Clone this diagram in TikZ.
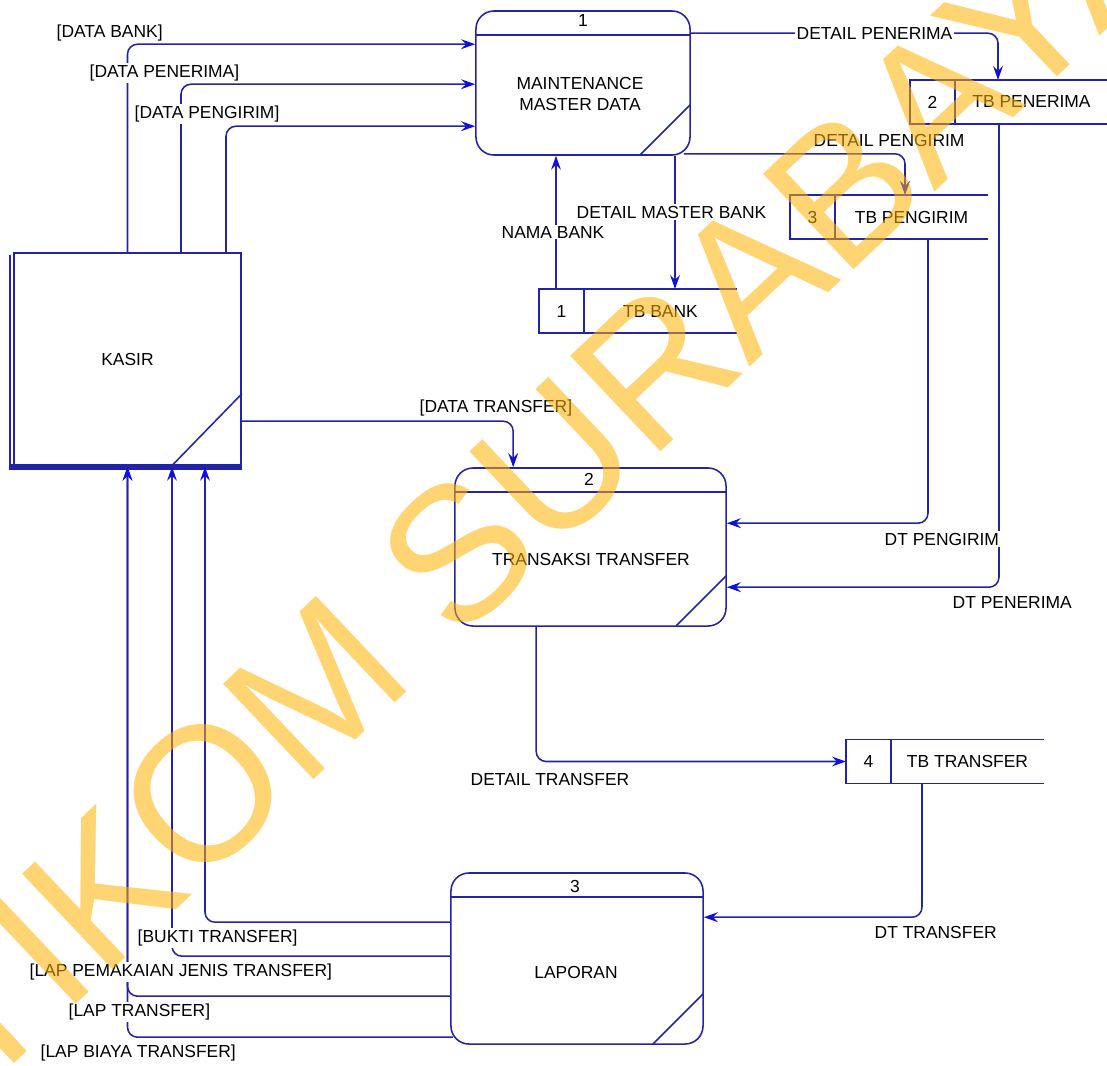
\documentclass[tikz,border=0pt]{standalone}
\usepackage{fontspec}
\setmainfont{Liberation Sans}
\newfontfamily\wmfont{Liberation Sans}
\usetikzlibrary{positioning,arrows.meta,calc}
\definecolor{dfdline}{RGB}{35,35,165}
\definecolor{dfdarrow}{RGB}{15,15,225}
\definecolor{wmyellow}{RGB}{255,176,0}

\begin{document}
\begin{tikzpicture}[x=0.025cm,y=-0.025cm,
  font=\fontsize{12.4}{15.6}\selectfont,
  dfd/.style={draw=dfdline,line width=1.1pt},
  flow/.style={dfd,rounded corners=0.25cm,-{Stealth[length=10pt,width=7pt,inset=3.5pt,color=dfdarrow]}},
  proc/.style={dfd,rounded corners=0.45cm,inner sep=0pt,path picture={
      \draw[dfd] ([yshift=-0.6cm]path picture bounding box.north west) -- ([yshift=-0.6cm]path picture bounding box.north east);
      \draw[dfd] ([xshift=-1.25cm]path picture bounding box.south east) -- ([yshift=1.25cm]path picture bounding box.south east);}},
  storeid/.style={dfd,minimum width=1.125cm,minimum height=1.1cm,inner sep=0pt,outer sep=0pt},
  storename/.style={minimum width=3.825cm,minimum height=1.1cm,inner sep=0pt,outer sep=0pt},
  lbl/.style={anchor=west,fill=white,inner sep=1pt},
  wm/.style={anchor=base west,rotate=43.4,inner sep=0pt,text=wmyellow,text opacity=0.55,font=\wmfont\fontsize{135.9}{136}\selectfont}]
\useasboundingbox (0,0) rectangle (1107,1066);
\clip (0,0) rectangle (1107,1066);

% processes
\node[proc,minimum width=5.35cm,minimum height=3.6cm] (p1) at (583,83) {};
\node (p1num) at (583,21) {1};
\node[align=center] (p1txt) at (580,94) {MAINTENANCE\\MASTER DATA};
\node[proc,minimum width=6.775cm,minimum height=3.95cm] (p2) at (590.5,547) {};
\node (p2num) at (589,479) {2};
\node (p2txt) at (591,559) {TRANSAKSI TRANSFER};
\node[proc,minimum width=6.3cm,minimum height=4.275cm] (p3) at (577,958.5) {};
\node (p3num) at (575,886) {3};
\node (p3txt) at (576,972) {LAPORAN};

% external entity
\node[dfd,minimum width=5.675cm,minimum height=5.325cm,inner sep=0pt] (kasir) at (127.5,359.5) {KASIR};
\draw[dfd] ($(kasir.north west)+(-3,3)$) -- ($(kasir.south west)+(-3,3)$);
\fill[dfdline] ($(kasir.south west)+(-3,-3)$) rectangle ($(kasir.south east)+(0,3)$);
\draw[dfd] ($(kasir.south east)+(-71,0)$) -- ($(kasir.south east)+(0,-73)$);

% data stores
\node[storeid] (idbank) at (561.5,311) {1};
\node[storename,right=0pt of idbank] (bank) {TB BANK};
\node[storeid] (idpenerima) at (932.5,102) {2};
\node[storename,right=0pt of idpenerima] (penerima) {TB PENERIMA};
\node[storeid] (idpengirim) at (812.5,217) {3};
\node[storename,right=0pt of idpengirim] (pengirim) {TB PENGIRIM};
\node[storeid] (idtransfer) at (868.5,761.5) {4};
\node[storename,right=0pt of idtransfer] (transfer) {TB TRANSFER};
\foreach \s in {bank,penerima,pengirim,transfer}{
  \draw[dfd] (id\s.north east) -- (\s.north east);
  \draw[dfd] (id\s.south east) -- (\s.south east);
}

% flows
\draw[flow] (kasir.north) |- ($(p1.north west)+(0,34)$);
\draw[flow] ($(kasir.north)+(53.5,0)$) |- ($(p1.north west)+(0,74)$);
\draw[flow] ($(kasir.north)+(98.5,0)$) |- ($(p1.north west)+(0,116)$);
\draw[flow] ($(p1.north east)+(0,23)$) -| ($(penerima.north west)+(43,0)$);
\draw[flow] ($(p1.south east)+(-7,-2)$) -| ($(pengirim.north west)+(70,0)$);
\coordinate (dmb) at ($(bank.north west)+(91,0)$);
\draw[flow] (dmb |- p1.south) -- (dmb);
\coordinate (nb) at ($(idbank.north)+(-5.5,0)$);
\draw[flow] (nb) -- (nb |- p1.south);
\coordinate (dtpg) at ($(pengirim.south west)+(93,0)$);
\draw[flow] (dtpg) |- ($(p2.north east)+(0,56)$);
\coordinate (dtpn) at ($(penerima.south west)+(44,0)$);
\draw[flow] (dtpn) |- ($(p2.north east)+(0,120)$);
\draw[flow] ($(kasir.north east)+(0,169)$) -| ($(p2.north west)+(59,0)$);
\draw[flow] ($(p2.south west)+(82,0)$) |- (idtransfer.west);
\draw[flow] ($(transfer.south west)+(31,0)$) |- ($(p3.north east)+(0,45)$);
\draw[flow] ($(p3.north west)+(0,50)$) -| ($(kasir.south)+(77.5,0)$);
\draw[flow] ($(p3.north west)+(0,84)$) -| ($(kasir.south)+(44.5,0)$);
\draw[flow] ($(p3.north west)+(0,124)$) -| (kasir.south);
\draw[flow] ($(p3.north west)+(3,165)$) -| (kasir.south);

% flow labels
\node[lbl] (lbank) at (55,33) {[DATA BANK]};
\node[lbl] (lpenerima) at (88,73) {[DATA PENERIMA]};
\node[lbl] (lpengirim) at (133,114) {[DATA PENGIRIM]};
\node[lbl] (ldpenerima) at (795,33) {DETAIL PENERIMA};
\node[lbl] (ldpengirim) at (812,140) {DETAIL PENGIRIM};
\node[lbl] (ldbank) at (575,212) {DETAIL MASTER BANK};
\node[lbl] (lnama) at (500,232) {NAMA BANK};
\node[lbl] (ltransfer) at (418,408) {[DATA TRANSFER]};
\node[lbl] (ldtpg) at (883,539) {DT PENGIRIM};
\node[lbl] (ldtpn) at (951,602) {DT PENERIMA};
\node[lbl] (ldtrf) at (469,779) {DETAIL TRANSFER};
\node[lbl] (ldttrf) at (873,932) {DT TRANSFER};
\node[lbl] (lbukti) at (136,938) {[BUKTI TRANSFER]};
\node[lbl] (ljenis) at (28,972) {[LAP PEMAKAIAN JENIS TRANSFER]};
\node[lbl] (llap) at (67,1012) {[LAP TRANSFER]};
\node[lbl] (lbiaya) at (39,1053) {[LAP BIAYA TRANSFER]};

% watermark
\node[wm] (wmark) at (-114.5,1184.8) {STIKOM SURABAYA};
\end{tikzpicture}
\end{document}
